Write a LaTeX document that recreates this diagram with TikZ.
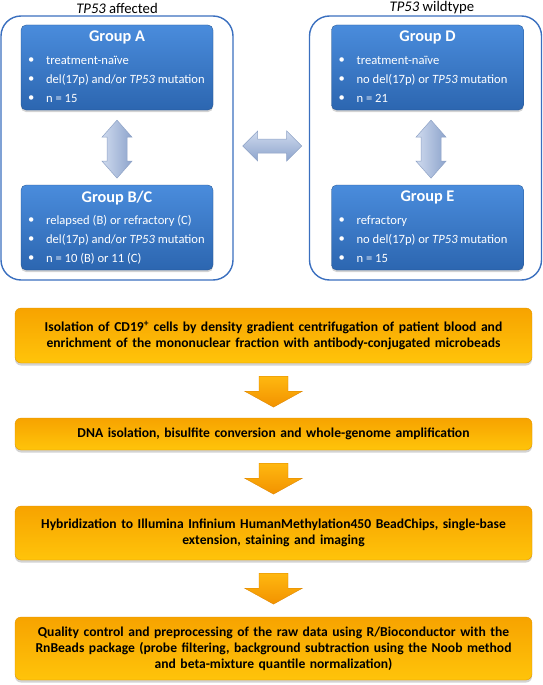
\documentclass[tikz,border=0pt]{standalone}
\usepackage{fontspec}
\setmainfont{Carlito}
\usetikzlibrary{calc,shadows}
\definecolor{frameblue}{HTML}{3A6FBF}
\definecolor{boxtop}{HTML}{4A8CDC}
\definecolor{boxbot}{HTML}{2C66B0}
\definecolor{ortop}{HTML}{F7A300}
\definecolor{orbot}{HTML}{FFC40A}
\definecolor{arrtop}{HTML}{FFB810}
\definecolor{arrbot}{HTML}{F29200}
\definecolor{lbA}{HTML}{CFDAEE}
\definecolor{lbB}{HTML}{8DA4CC}
\definecolor{lbedge}{HTML}{8FA3C6}
\tikzset{
  frame/.style={draw=frameblue, line width=1.4pt, rounded corners=20pt, minimum width=232pt, minimum height=264pt, inner sep=0pt},
  groupbox/.style={rounded corners=5pt, top color=boxtop, bottom color=boxbot, draw=boxbot!80!black, line width=0.3pt, minimum width=192pt, minimum height=85pt, inner sep=0pt, drop shadow={opacity=0.35, shadow xshift=0pt, shadow yshift=-2pt}},
  gtitle/.style={text=white, font=\bfseries\fontsize{16.3}{18}\selectfont, inner sep=0pt},
  gbullet/.style={text=white, font=\fontsize{12.6}{14}\selectfont, inner sep=0pt, anchor=west},
  steptop/.style={rounded corners=6pt, top color=ortop, bottom color=orbot, draw=ortop!90!black, line width=0.3pt, minimum width=517pt, inner sep=0pt, text width=505pt, align=center, font=\bfseries\fontsize{13.6}{16}\selectfont, drop shadow={opacity=0.35, shadow xshift=0pt, shadow yshift=-2.5pt}},
  orarrow/.style={top color=arrtop, bottom color=arrbot, draw=arrbot!90!black, line width=0.3pt},
  vdarrow/.style={left color=lbA, right color=lbB, draw=lbedge, line width=0.5pt},
  hdarrow/.style={top color=lbA, bottom color=lbB, draw=lbedge, line width=0.5pt},
  headlabel/.style={font=\fontsize{14.7}{16}\selectfont, inner sep=0pt}
}
\newcommand\grpcontent[5]{%
  \node[gtitle] (#1-t) at ($(#1.north)+(0,13)$) {#2};
  \node[gbullet] (#1-b1) at ($(#1.north west)+(25,36)$) {#3};
  \node[gbullet] (#1-b2) at ($(#1.north west)+(25,55)$) {#4};
  \node[gbullet] (#1-b3) at ($(#1.north west)+(25,74)$) {#5};
  \node[gbullet] (#1-d1) at ($(#1.north west)+(7,36)$) {•};
  \node[gbullet] (#1-d2) at ($(#1.north west)+(7,55)$) {•};
  \node[gbullet] (#1-d3) at ($(#1.north west)+(7,74)$) {•};
}
\begin{document}
\begin{tikzpicture}[x=1pt,y=-1pt]
\useasboundingbox (0,0) rectangle (543,685);

% headers
\node[headlabel] (hl) at (117,8) {\textit{TP53} affected};
\node[headlabel] (hr) at (432,8) {\textit{TP53} wildtype};

% frames
\node[frame] (L) at (117,148) {};
\node[frame] (R) at (425.5,148) {};

% group boxes
\node[groupbox] (A) at (117,67.5) {};
\node[groupbox] (BC) at (117,227.5) {};
\node[groupbox] (D) at (427.5,67.5) {};
\node[groupbox] (E) at (427.5,227.5) {};

\grpcontent{A}{Group A}{treatment-naïve}{del(17p) and/or \textit{TP53} mutation}{n = 15}
\grpcontent{BC}{Group B/C}{relapsed (B) or refractory (C)}{del(17p) and/or \textit{TP53} mutation}{n = 10 (B) or 11 (C)}
\grpcontent{D}{Group D}{treatment-naïve}{no del(17p) or \textit{TP53} mutation}{n = 21}
\grpcontent{E}{Group E}{refractory}{no del(17p) or \textit{TP53} mutation}{n = 15}

% vertical double arrows
\coordinate (ab) at ($(A.south)+(0,10)$);
\path[vdarrow] (ab) -- ++(15,17) -- ++(-5,0) -- ++(0,24) -- ++(5,0) -- ++(-15,17)
  -- ++(-15,-17) -- ++(5,0) -- ++(0,-24) -- ++(-5,0) -- cycle;
\coordinate (de) at ($(D.south)+(3.5,10)$);
\path[vdarrow] (de) -- ++(15,17) -- ++(-5,0) -- ++(0,24) -- ++(5,0) -- ++(-15,17)
  -- ++(-15,-17) -- ++(5,0) -- ++(0,-24) -- ++(-5,0) -- cycle;

% horizontal double arrow
\coordinate (lr) at ($(L.east)+(9,-2)$);
\path[hdarrow] (lr) -- ++(15,-15) -- ++(0,8) -- ++(29,0) -- ++(0,-8) -- ++(15,15)
  -- ++(-15,15) -- ++(0,-8) -- ++(-29,0) -- ++(0,8) -- cycle;

% workflow boxes
\node[steptop, minimum height=55pt] (S1) at (273.5,335.5) {Isolation of CD19\textsuperscript{+} cells by density gradient centrifugation of patient blood and\\ enrichment of the mononuclear fraction with antibody-conjugated microbeads};
\node[steptop, minimum height=32pt] (S2) at (273.5,434) {DNA isolation, bisulfite conversion and whole-genome amplification};
\node[steptop, minimum height=54pt] (S3) at (273.5,533) {Hybridization to Illumina Infinium HumanMethylation450 BeadChips, single-base\\ extension, staining and imaging};
\node[steptop, minimum height=63pt] (S4) at (273.5,648.5) {Quality control and preprocessing of the raw data using R/Bioconductor with the\\ RnBeads package (probe filtering, background subtraction using the Noob method\\ and beta-mixture quantile normalization)};

% orange arrows
\foreach \s in {S1,S2,S3}{
  \path[orarrow] ($(\s.south)+(-14.5,13)$) -- ++(29,0) -- ++(0,15) -- ++(14.5,0) -- ++(-29,16)
    -- ++(-29,-16) -- ++(14.5,0) -- cycle;
}
\end{tikzpicture}
\end{document}
